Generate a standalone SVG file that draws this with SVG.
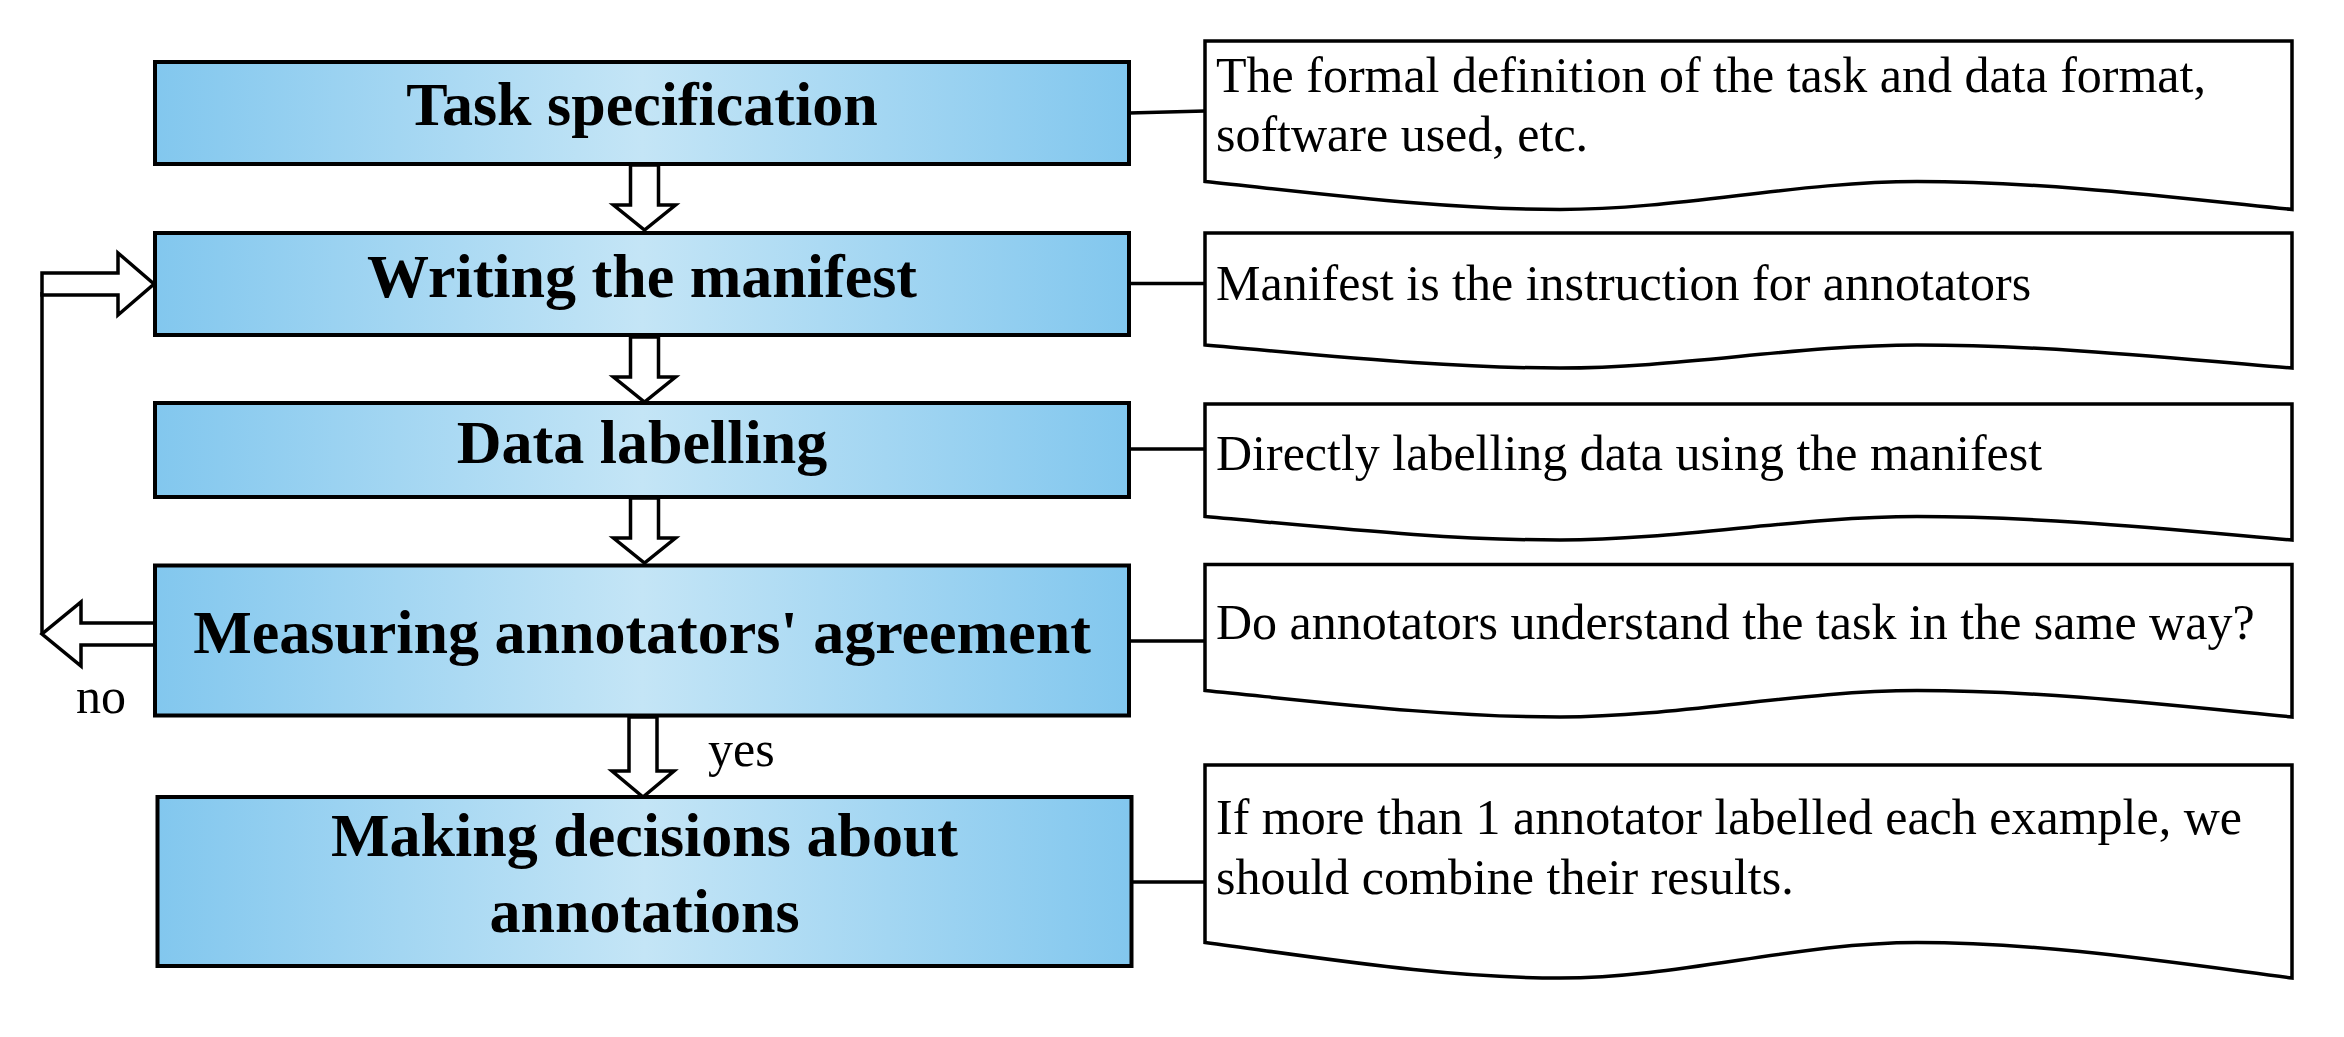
<svg xmlns="http://www.w3.org/2000/svg" width="2344" height="1037" viewBox="0 0 2344 1037">
  <defs>
    <linearGradient id="blueGrad" x1="0" y1="0" x2="1" y2="0">
      <stop offset="0" stop-color="#82C7EE"/>
      <stop offset="0.5" stop-color="#C4E5F6"/>
      <stop offset="1" stop-color="#82C7EE"/>
    </linearGradient>
    <style>
      .step { fill: url(#blueGrad); stroke: #000; stroke-width: 4; }
      .doc { fill: #fff; stroke: #000; stroke-width: 3.5; stroke-linejoin: miter; }
      .title { font-family: "Liberation Serif", "Times New Roman", serif; font-weight: bold; font-size: 62px; fill: #000; text-anchor: middle; }
      .desc { font-family: "Liberation Serif", "Times New Roman", serif; font-size: 50px; fill: #000; }
      .lbl { font-family: "Liberation Serif", "Times New Roman", serif; font-size: 50px; fill: #000; }
      .link { fill: none; stroke: #000; stroke-width: 3.5; }
      .barrow { fill: #fff; stroke: #000; stroke-width: 3.5; stroke-linejoin: miter; }
    </style>
  </defs>
  <rect width="2344" height="1037" fill="#fff"/>

  <g id="connectors">
    <line class="link" x1="1129" y1="113" x2="1205" y2="111"/>
    <line class="link" x1="1129" y1="283.5" x2="1205" y2="283.5"/>
    <line class="link" x1="1129" y1="449" x2="1205" y2="449"/>
    <line class="link" x1="1129" y1="641" x2="1205" y2="641"/>
    <line class="link" x1="1132" y1="882" x2="1205" y2="882"/>
    <polygon class="barrow" points="630.5,165 658.5,165 658.5,205 675.5,205 644.5,230 613.5,205 630.5,205"/>
    <polygon class="barrow" points="630.5,337 658.5,337 658.5,377 675.5,377 644.5,402 613.5,377 630.5,377"/>
    <polygon class="barrow" points="630.5,498 658.5,498 658.5,538 675.5,538 644.5,563 613.5,538 630.5,538"/>
    <polygon class="barrow" points="629,717 657,717 657,771 674,771 643,797 612,771 629,771"/>
    <line class="link" x1="42" y1="292" x2="42" y2="634"/>
    <polygon class="barrow" points="42,273 118,273 118,253 154,284 118,315 118,295 42,295"/>
    <polyline class="barrow" points="155,623 81,623 81,602 42,634 81,666 81,645 155,645"/>
    <text class="lbl" x="76" y="713">no</text>
    <text class="lbl" x="708" y="766">yes</text>
  </g>

  <g id="task-specification">
    <rect class="step" x="155" y="62" width="974" height="102"/>
    <text class="title" x="642" y="125">Task specification</text>
  </g>
  <g id="writing-manifest">
    <rect class="step" x="155" y="233" width="974" height="102"/>
    <text class="title" x="642" y="297">Writing the manifest</text>
  </g>
  <g id="data-labelling">
    <rect class="step" x="155" y="403" width="974" height="94"/>
    <text class="title" x="642" y="463">Data labelling</text>
  </g>
  <g id="measuring-agreement">
    <rect class="step" x="155" y="565.5" width="974" height="150"/>
    <text class="title" x="642" y="653">Measuring annotators' agreement</text>
  </g>
  <g id="making-decisions">
    <rect class="step" x="157.5" y="797" width="974" height="169"/>
    <text class="title" x="644.5" y="856">Making decisions about</text>
    <text class="title" x="644.5" y="932">annotations</text>
  </g>

  <g id="note-task">
    <path class="doc" d="M1205,41 H2292 V209.5 C2167,196.6 2042,181.5 1917,181.5 C1798,181.5 1679,209.5 1560,209.5 C1442,209.5 1323,193.8 1205,181.5 Z"/>
    <text class="desc" x="1216" y="92">The formal definition of the task and data format,</text>
    <text class="desc" x="1216" y="151">software used, etc.</text>
  </g>
  <g id="note-manifest">
    <path class="doc" d="M1205,233 H2292 V368 C2167,357.4 2042,345 1917,345 C1798,345 1679,368 1560,368 C1442,368 1323,355.1 1205,345 Z"/>
    <text class="desc" x="1216" y="299.5">Manifest is the instruction for annotators</text>
  </g>
  <g id="note-labelling">
    <path class="doc" d="M1205,404 H2292 V540 C2167,529.2 2042,516.5 1917,516.5 C1798,516.5 1679,540 1560,540 C1442,540 1323,526.8 1205,516.5 Z"/>
    <text class="desc" x="1216" y="470">Directly labelling data using the manifest</text>
  </g>
  <g id="note-agreement">
    <path class="doc" d="M1205,564.5 H2292 V717 C2167,704.8 2042,690.5 1917,690.5 C1798,690.5 1679,717 1560,717 C1442,717 1323,702.2 1205,690.5 Z"/>
    <text class="desc" x="1216" y="639">Do annotators understand the task in the same way?</text>
  </g>
  <g id="note-decisions">
    <path class="doc" d="M1205,765 H2292 V978 C2167,961.7 2042,942.5 1917,942.5 C1798,942.5 1679,978 1560,978 C1442,978 1323,958.1 1205,942.5 Z"/>
    <text class="desc" x="1216" y="834">If more than 1 annotator labelled each example, we</text>
    <text class="desc" x="1216" y="894">should combine their results.</text>
  </g>
</svg>
